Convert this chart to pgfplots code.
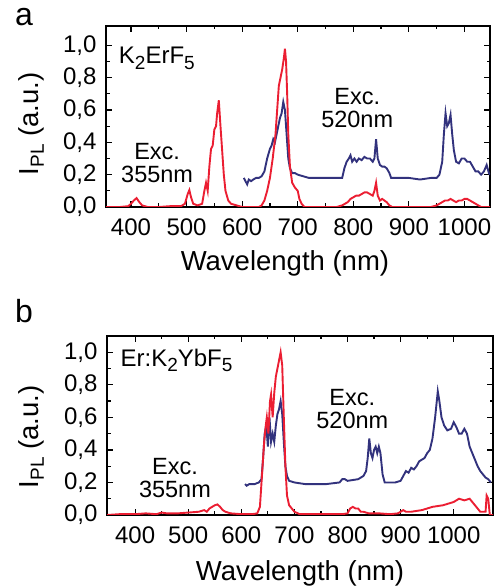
\documentclass[border=0pt]{standalone}
\usepackage{fontspec}
\setmainfont{Liberation Sans}
\usepackage{pgfplots}
\pgfplotsset{compat=1.18}
\definecolor{pred}{RGB}{235,30,50}
\definecolor{pblue}{RGB}{50,50,125}
\newcommand{\sub}[1]{\raisebox{-0.4ex}{\fontsize{19}{19}\selectfont #1}}

\pgfplotstableread{
x y
350 0.0
380 0.0
395 0.005
400 0.02
405 0.04
410 0.055
415 0.03
420 0.01
430 0.0
450 0.0
470 0.005
490 0.005
497 0.02
502 0.08
505 0.105
508 0.06
512 0.02
520 0.01
528 0.02
532 0.1
535 0.15
538 0.1
541 0.25
544 0.36
547 0.38
550 0.48
553 0.5
555 0.58
558 0.66
561 0.5
564 0.35
567 0.2
570 0.1
575 0.04
580 0.02
590 0.01
600 0.0
630 0.0
635 0.01
640 0.04
645 0.1
650 0.18
655 0.3
660 0.45
663 0.6
666 0.75
669 0.8
672 0.85
675 0.92
677 0.98
679 0.9
681 0.7
683 0.45
686 0.25
690 0.15
695 0.12
700 0.1
703 0.05
707 0.02
712 0.0
770 0.0
780 0.01
790 0.03
795 0.05
800 0.06
805 0.07
810 0.07
815 0.08
820 0.09
825 0.09
830 0.08
835 0.07
838 0.1
841 0.15
844 0.07
848 0.04
852 0.05
856 0.04
860 0.03
865 0.01
870 0.0
940 0.0
950 0.01
960 0.03
965 0.04
970 0.04
975 0.05
980 0.04
985 0.03
990 0.04
995 0.04
1000 0.05
1005 0.05
1010 0.04
1015 0.03
1020 0.02
1030 0.0
1046 0.0
}\redA

\pgfplotstableread{
x y
603 0.18
606 0.16
609 0.14
612 0.17
616 0.16
620 0.17
625 0.18
630 0.18
635 0.19
640 0.22
645 0.3
650 0.36
653 0.38
656 0.42
659 0.4
662 0.45
665 0.5
668 0.55
671 0.58
674 0.65
677 0.6
680 0.45
683 0.3
686 0.24
690 0.21
695 0.21
700 0.2
710 0.19
720 0.18
740 0.18
760 0.18
780 0.18
784 0.24
788 0.28
792 0.3
795 0.32
798 0.28
802 0.3
806 0.28
810 0.3
815 0.29
820 0.31
825 0.3
830 0.3
835 0.28
838 0.3
841 0.42
844 0.3
848 0.26
852 0.25
856 0.25
860 0.24
865 0.21
868 0.18
880 0.18
900 0.18
920 0.17
940 0.18
950 0.18
955 0.2
960 0.28
963 0.45
966 0.58
969 0.5
972 0.52
975 0.57
978 0.45
981 0.35
985 0.28
990 0.27
995 0.3
1000 0.3
1005 0.28
1010 0.28
1015 0.25
1020 0.22
1025 0.22
1030 0.2
1035 0.22
1040 0.26
1044 0.21
1046 0.2
}\blueA

\pgfplotstableread{
x y
347 0.0
370 0.005
400 0.005
420 0.01
440 0.005
450 0.015
460 0.01
480 0.01
500 0.015
520 0.02
530 0.03
535 0.02
540 0.04
545 0.05
550 0.06
555 0.065
560 0.05
565 0.03
570 0.02
580 0.01
600 0.005
620 0.005
630 0.01
635 0.05
640 0.3
643 0.45
646 0.55
648 0.6
651 0.5
654 0.7
656 0.74
659 0.6
662 0.75
665 0.85
668 0.9
671 0.95
674 1.0
677 0.92
680 0.6
683 0.3
686 0.12
690 0.06
695 0.04
700 0.02
710 0.005
790 0.005
800 0.01
805 0.04
810 0.05
815 0.04
820 0.04
825 0.02
830 0.02
840 0.01
860 0.01
880 0.005
895 0.01
900 0.02
905 0.03
910 0.02
920 0.02
940 0.03
960 0.05
980 0.06
990 0.07
1000 0.08
1010 0.1
1020 0.09
1030 0.1
1035 0.08
1040 0.06
1045 0.04
1050 0.02
1060 0.02
1062 0.12
1065 0.1
1068 0.0
1074 0.0
}\redB

\pgfplotstableread{
x y
607 0.19
610 0.18
615 0.19
625 0.19
633 0.2
638 0.22
641 0.35
644 0.5
647 0.55
650 0.42
653 0.6
656 0.45
659 0.5
662 0.45
665 0.55
668 0.62
671 0.65
674 0.7
677 0.62
680 0.45
683 0.3
686 0.24
690 0.21
700 0.2
720 0.19
760 0.19
785 0.2
790 0.22
795 0.22
800 0.21
820 0.22
830 0.24
835 0.27
838 0.35
841 0.47
844 0.38
847 0.35
850 0.4
853 0.42
856 0.38
859 0.42
862 0.38
866 0.25
870 0.2
890 0.2
900 0.21
905 0.24
910 0.27
915 0.26
920 0.29
925 0.28
930 0.3
935 0.33
940 0.34
945 0.35
950 0.38
955 0.4
960 0.47
965 0.6
970 0.76
973 0.7
977 0.6
982 0.55
988 0.52
995 0.53
1000 0.57
1005 0.54
1010 0.5
1015 0.5
1020 0.53
1025 0.5
1030 0.42
1035 0.38
1040 0.34
1045 0.3
1050 0.27
1055 0.25
1060 0.23
1065 0.22
1070 0.2
}\blueB

\pgfplotsset{myaxis/.style={
  scale only axis,
  axis line style={line width=1.5pt},
  ymin=0, ymax=1.12,
  ytick={0,0.2,0.4,0.6,0.8,1.0},
  xtick={400,500,...,1000},
  minor x tick num=1, minor y tick num=1,
  tick align=inside,
  major tick length=6pt, minor tick length=3.5pt,
  every tick/.style={line width=1.2pt, black},
  every tick label/.append style={font=\fontsize{24}{28}\selectfont},
  yticklabel style={/pgf/number format/fixed, /pgf/number format/fixed zerofill,
     /pgf/number format/precision=1, /pgf/number format/use comma,
     /pgf/number format/assume math mode=true, xshift=-6pt},
  xticklabel style={/pgf/number format/set thousands separator={},
     /pgf/number format/assume math mode=true, yshift=-8pt},
  label style={font=\fontsize{27.5}{32}\selectfont},
  xlabel={Wavelength (nm)},
  ylabel={I\sub{PL} (a.u.)},
  clip=true,
}}

\begin{document}
\begin{tikzpicture}
\useasboundingbox (0,0) rectangle (496pt,588pt);
\node[font=\fontsize{32}{36}\selectfont] at (24pt,571pt) {a};
\node[font=\fontsize{32}{36}\selectfont] at (24pt,277pt) {b};

\begin{axis}[myaxis, at={(106pt,381pt)}, anchor=south west,
  width=384pt, height=181pt, xmin=355, xmax=1046,
  xlabel style={at={([yshift=-56pt]axis description cs:0.466,0)}, anchor=center},
  ylabel style={at={([xshift=-75pt]axis description cs:0,0.46)}, anchor=center}]
\addplot[pblue, line width=1.9pt] table[x=x,y=y] {\blueA};
\addplot[pred, line width=1.9pt] table[x=x,y=y] {\redA};
\node[anchor=west, font=\fontsize{24}{28}\selectfont] at (axis cs:372,0.92) {K\sub{2}ErF\sub{5}};
\node[align=center, font=\fontsize{23.5}{23}\selectfont] at (axis cs:447,0.27) {Exc.\\355nm};
\node[align=center, font=\fontsize{23.5}{23}\selectfont] at (axis cs:807,0.61) {Exc.\\520nm};
\end{axis}

\begin{axis}[myaxis, at={(107pt,73pt)}, anchor=south west,
  width=386pt, height=179pt, xmin=347, xmax=1074, ymax=1.10,
  xlabel style={at={([yshift=-58pt]axis description cs:0.5,0)}, anchor=center},
  ylabel style={at={([xshift=-76pt]axis description cs:0,0.436)}, anchor=center}]
\addplot[pblue, line width=1.9pt] table[x=x,y=y] {\blueB};
\addplot[pred, line width=1.9pt] table[x=x,y=y] {\redB};
\node[anchor=west, font=\fontsize{24}{28}\selectfont] at (axis cs:366,0.95) {Er:K\sub{2}YbF\sub{5}};
\node[align=center, font=\fontsize{23.5}{23}\selectfont] at (axis cs:475,0.23) {Exc.\\355nm};
\node[align=center, font=\fontsize{23.5}{23}\selectfont] at (axis cs:809,0.65) {Exc.\\520nm};
\end{axis}
\end{tikzpicture}
\end{document}
